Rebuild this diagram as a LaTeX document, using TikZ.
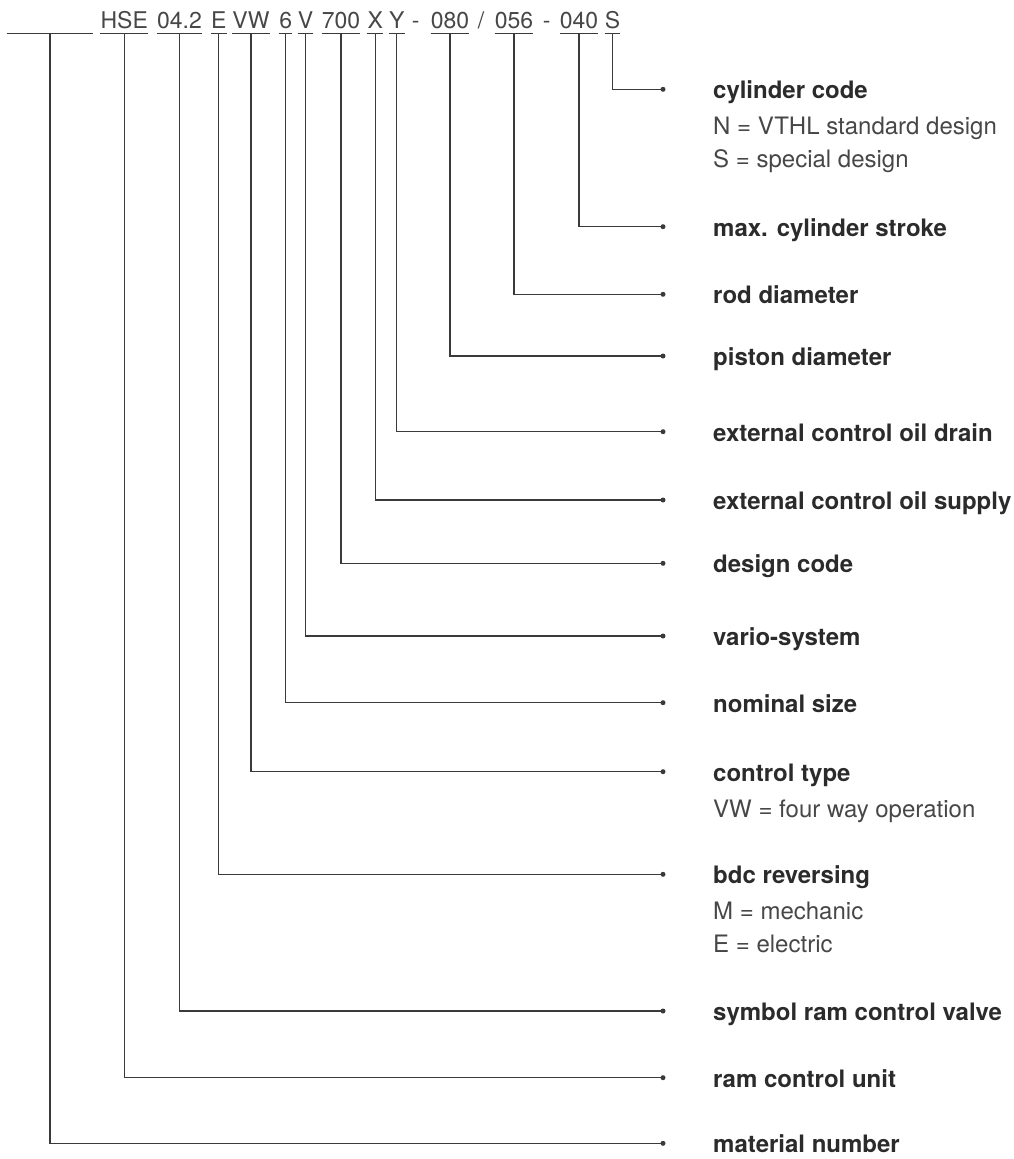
\documentclass[tikz,border=0pt]{standalone}
\usepackage{fontspec}
\setmainfont{TeX Gyre Heros}
\usepackage{tikz}
\definecolor{ink}{HTML}{2B2B2B}
\definecolor{thin}{HTML}{474747}
\definecolor{wire}{HTML}{3A3A3A}
\tikzset{every node/.style={font=\fontsize{24}{28}\selectfont, text=ink},
  code/.style={font=\fontsize{23}{27}\selectfont, text=thin, inner xsep=0pt, inner ysep=0pt,
    text depth=5pt, anchor=base},
  title/.style={font=\fontsize{24}{28}\selectfont\bfseries, inner sep=0pt, anchor=base west},
  note/.style={text=thin, inner sep=0pt, anchor=base west},
  uline/.style={wire, line width=1pt},
  lead/.style={wire, line width=1.1pt},
  dot/.style={circle, fill=wire, inner sep=0pt, minimum size=5pt}}

\begin{document}
\begin{tikzpicture}[x=1pt,y=-1pt]
    \useasboundingbox (0,0) rectangle (1014,1159);
    % type code
    \node[code,minimum width=86pt] (mat) at (50,28.3) {};
    \foreach \nm/\x/\t in {hse/124.2/HSE, ver/179.5/04.2, rev/218.7/E, typ/251/VW,
        siz/285.8/6, var/305.5/V, des/341/700, sup/375.3/X, drn/396.7/Y,
        pis/450/080, rod/514/056, str/579/040, cyl/612.5/S}
      \node[code] (\nm) at (\x,28.3) {\t};
    \node[code] (sepa) at (415.7,28.3) {-};
    \node[code] (sepb) at (481,28.3) {/};
    \node[code] (sepc) at (546.7,28.3) {-};
    \foreach \nm in {mat,hse,ver,rev,typ,siz,var,des,sup,drn,pis,rod,str,cyl}
      \draw[uline] (\nm.south west) -- (\nm.south east);
    % leaders and labels
    \foreach \nm/\y/\t in {cyl/89.3/cylinder code, str/226.7/max. cylinder stroke,
        rod/294.3/rod diameter, pis/356/piston diameter,
        drn/431.7/external control oil drain, sup/500/external control oil supply,
        des/563.3/design code, var/636/vario-system, siz/702.7/nominal size,
        typ/771.7/control type, rev/874.3/bdc reversing,
        ver/1011/symbol ram control valve, hse/1077.7/ram control unit,
        mat/1143.3/material number}
    {
      \coordinate (e\nm) at (663,\y);
      \node[title] (l\nm) at (713,\y+9.5) {\t};
      \draw[lead] (\nm.south) |- (e\nm);
      \node[dot] at (e\nm) {};
    }
    \node[note] (lcyla) at (713,89.3+45.5) {N = VTHL standard design};
    \node[note] (lcylb) at (713,89.3+78) {S = special design};
    \node[note] (ltypa) at (713,771.7+45.5) {VW = four way operation};
    \node[note] (lreva) at (713,874.3+45.5) {M = mechanic};
    \node[note] (lrevb) at (713,874.3+78) {E = electric};
\end{tikzpicture}
\end{document}
